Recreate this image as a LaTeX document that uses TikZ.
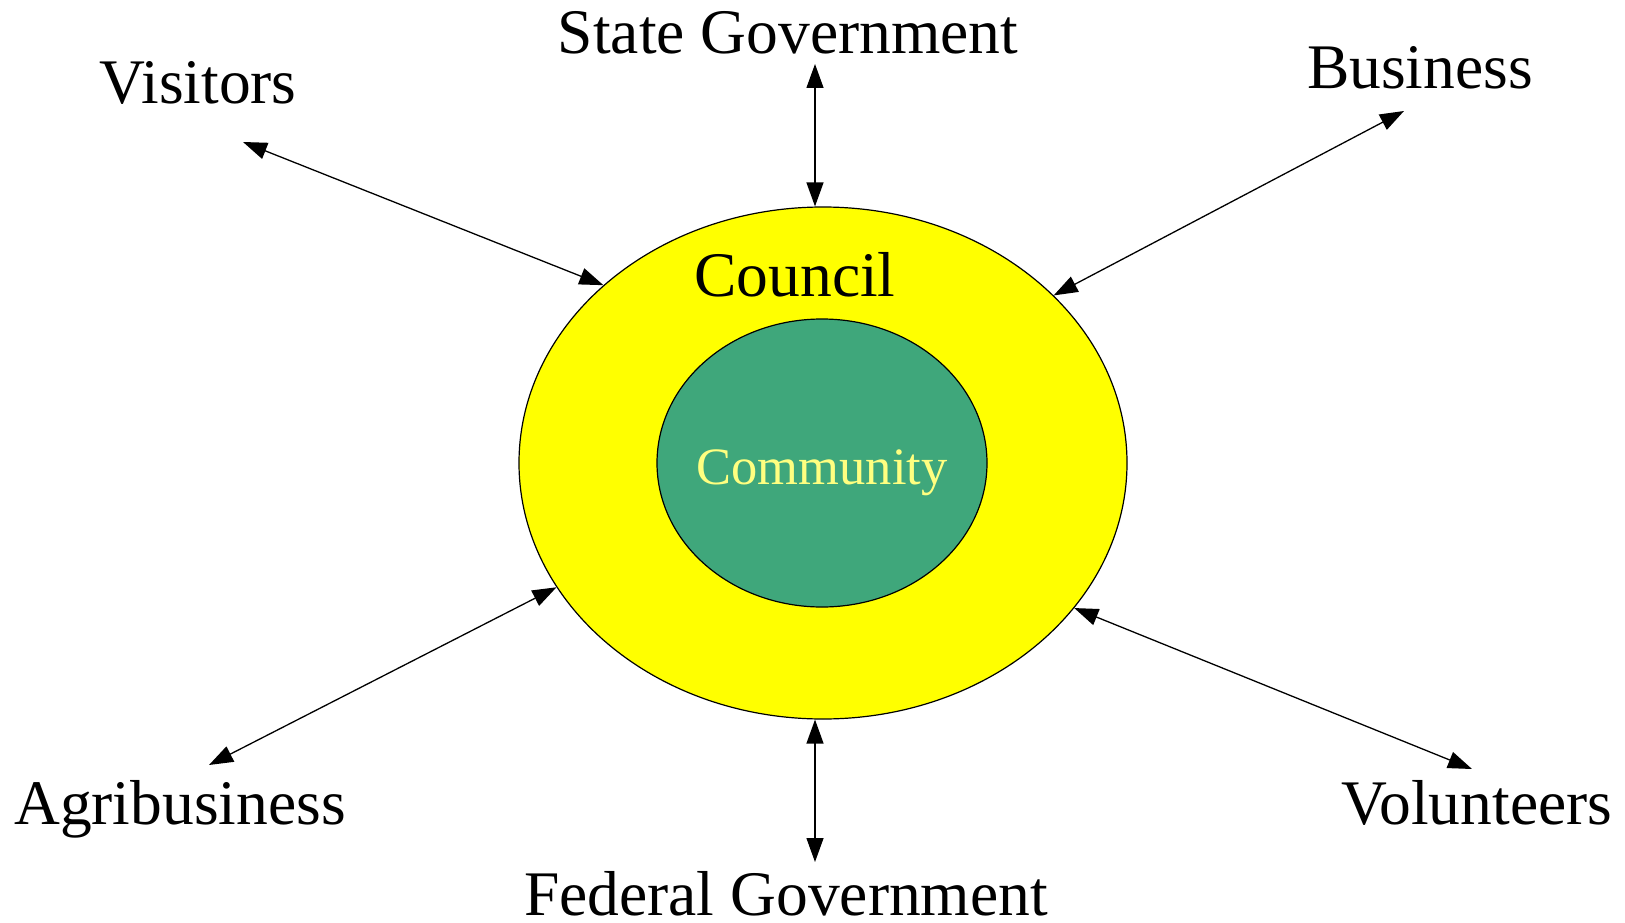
\documentclass[tikz,border=0pt]{standalone}
\usepackage{fontspec}
\setmainfont{Liberation Serif}
\usetikzlibrary{shapes.geometric,arrows.meta}
\definecolor{ringyellow}{HTML}{FFFF00}
\definecolor{coregreen}{HTML}{3FA77B}
\definecolor{paleyellow}{HTML}{FFFF80}
\tikzset{
  partner/.style={inner sep=0pt, anchor=base, font=\fontsize{63.5}{70}\selectfont},
  link/.style={{Triangle[length=24pt,width=17pt]}-{Triangle[length=24pt,width=17pt]}, line width=1.3pt},
  ring/.style={ellipse, draw, line width=1.2pt, inner sep=0pt},
}
\begin{document}
\begin{tikzpicture}[x=1pt,y=-1pt]
    \useasboundingbox (0,0) rectangle (1625,923);

    % the two rings
    \node [ring, fill=ringyellow, minimum width=608pt, minimum height=512pt] (council) at (823,463) {};
    \node [ring, fill=coregreen, minimum width=330pt, minimum height=288pt] (community) at (822,463) {};
    \node [partner] (councilText) at (795,296) {Council};
    \node [partner, text=paleyellow, font=\fontsize{52.5}{60}\selectfont] (communityText) at (822,484) {Community};

    % partners round the council
    \node [partner] (state) at (788,54) {State Government};
    \node [partner] (visitors) at (198,104) {Visitors};
    \node [partner] (business) at (1420,89) {Business};
    \node [partner] (agri) at (180,824) {Agribusiness};
    \node [partner] (volunteers) at (1477,824) {Volunteers};
    \node [partner] (federal) at (786,915) {Federal Government};

    % free ends of the arrows
    \coordinate (stateEnd) at (815,64);
    \coordinate (visitorsEnd) at (243,142);
    \coordinate (businessEnd) at (1404,111);
    \coordinate (agriEnd) at (209,765);
    \coordinate (volunteersEnd) at (1472,769);
    \coordinate (federalEnd) at (815,862);

    \draw [link] (stateEnd) -- (stateEnd |- council.north);
    \draw [link] (visitorsEnd) -- (council.141);
    \draw [link] (businessEnd) -- (council.36.9);
    \draw [link] (agriEnd) -- (council.205.7);
    \draw [link] (volunteersEnd) -- (council.330.5);
    \draw [link] (federalEnd) -- (federalEnd |- council.south);
\end{tikzpicture}
\end{document}
